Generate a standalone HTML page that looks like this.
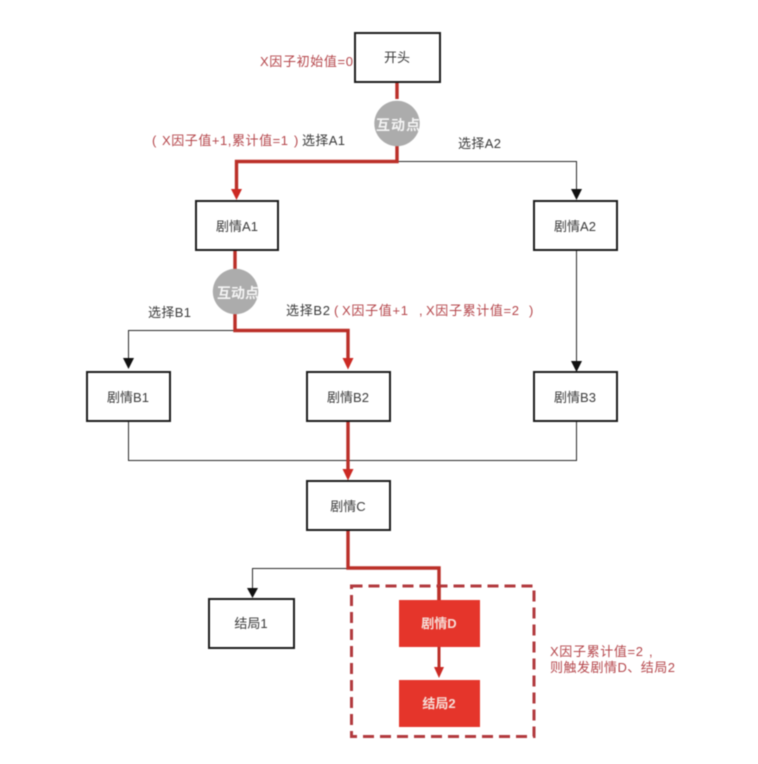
<!DOCTYPE html>
<html><head><meta charset="utf-8"><style>
html,body{margin:0;padding:0;background:#fff}
svg{display:block;filter:blur(0.45px)}
text{font-family:"Liberation Sans","Noto Sans CJK SC",sans-serif;font-size:13px}
.b{fill:#3a3a3a;text-anchor:middle}
.r{fill:#b5474c}
.k{fill:#3a3a3a}
.w{fill:#f6dcd6;text-anchor:middle;font-weight:bold;font-size:13px}
.c{fill:#f4f4f4;text-anchor:middle;font-weight:bold;font-size:14px}
</style></head><body>
<svg width="758" height="764" viewBox="0 0 758 764" xmlns="http://www.w3.org/2000/svg">
<rect width="758" height="764" fill="#fff"/>
<!-- thin black connectors -->
<g fill="none" stroke="#2a2a2a" stroke-width="1">
<path d="M397 161.5H576.5V191"/>
<path d="M576.5 250V363"/>
<path d="M235 330.5H128.5V359"/>
<path d="M128.5 421V460.5H576.5V421"/>
<path d="M348 568.5H252.5V589"/>
</g>
<g fill="#111">
<path d="M571 189H582L576.5 200Z"/>
<path d="M571 361H582L576.5 372Z"/>
<path d="M123 358H134L128.5 369Z"/>
<path d="M247 588H258L252.5 598Z"/>
</g>
<!-- red connectors -->
<g fill="none" stroke="#bb2f28" stroke-width="3.4">
<path d="M397 82V99M397 146V161.5H236.5V191"/>
<path d="M235 250V269M235 314V330.5H348V360"/>
<path d="M348 421V470"/>
<path d="M348 531V568H439V600"/>
<path d="M439 647V669" stroke-width="3"/>
</g>
<g fill="#cc2a24">
<path d="M231 189H242L236.5 200Z"/>
<path d="M342.5 358H353.5L348 369.5Z"/>
<path d="M342.5 469H353.5L348 480.5Z"/>
<path d="M434 667H444L439 678Z"/>
</g>
<!-- nodes -->
<g fill="#fff" stroke="#1c1c1c" stroke-width="2">
<rect x="355" y="33" width="85" height="49"/>
<rect x="196" y="201" width="82" height="49"/>
<rect x="534" y="201" width="83" height="49"/>
<rect x="87" y="372" width="83" height="49"/>
<rect x="307" y="372" width="83" height="49"/>
<rect x="534" y="372" width="83" height="49"/>
<rect x="307" y="481" width="83" height="49"/>
<rect x="209" y="599" width="85" height="49"/>
</g>
<circle cx="397" cy="123.5" r="22.7" fill="#acacac"/>
<circle cx="235.5" cy="291.5" r="22.7" fill="#acacac"/>
<rect x="351.5" y="586" width="182.5" height="150.5" fill="none" stroke="#b23a3e" stroke-width="3" stroke-dasharray="11 6"/>
<line x1="439" y1="586" x2="439" y2="600" stroke="#bb2f28" stroke-width="3.4"/>
<rect x="399" y="600" width="81" height="47" fill="#e5352b"/>
<rect x="399" y="680" width="81" height="47" fill="#e5352b"/>
<!-- labels -->
<text class="b" x="397" y="62">开头</text>
<text class="b" x="237" y="231">剧情A1</text>
<text class="b" x="575" y="231">剧情A2</text>
<text class="b" x="128" y="402">剧情B1</text>
<text class="b" x="348" y="402">剧情B2</text>
<text class="b" x="575" y="402">剧情B3</text>
<text class="b" x="348" y="511">剧情C</text>
<text class="b" x="251" y="628">结局1</text>
<text class="w" x="439" y="628">剧情D</text>
<text class="w" x="439" y="708">结局2</text>
<text class="c" x="398" y="130" textLength="44">互动点</text>
<text class="c" x="238" y="298" textLength="42">互动点</text>
<text class="r" x="260" y="66" textLength="93">X因子初始值=0</text>
<text class="r" x="152" y="145">(</text>
<text class="r" x="162" y="145" textLength="126">X因子值+1,累计值=1</text>
<text class="r" x="294" y="145">)</text>
<text class="k" x="302" y="145" textLength="43">选择A1</text>
<text class="k" x="458" y="148" textLength="43">选择A2</text>
<text class="k" x="148" y="317" textLength="43">选择B1</text>
<text class="k" x="286" y="315" textLength="44">选择B2</text>
<text class="r" x="334" y="315">(</text>
<text class="r" x="342" y="315" textLength="66">X因子值+1</text>
<text class="r" x="419" y="315">,</text>
<text class="r" x="426" y="315" textLength="93">X因子累计值=2</text>
<text class="r" x="529" y="315">)</text>
<text class="r" x="550" y="656" textLength="93">X因子累计值=2</text>
<text class="r" x="649" y="656">,</text>
<text class="r" x="550" y="672" textLength="125">则触发剧情D、结局2</text>
</svg>
</body></html>
